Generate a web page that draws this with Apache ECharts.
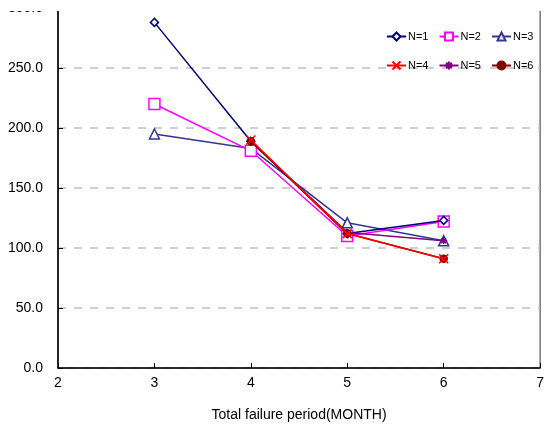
<!DOCTYPE html>
<html><head><meta charset="utf-8">
<script src="https://cdn.jsdelivr.net/npm/echarts@6/dist/echarts.min.js"></script>
<style>html,body{margin:0;padding:0;background:#fff}#c{width:547px;height:427px}</style>
</head><body><div id="c"></div>
<script>
const xTicks = [2, 3, 4, 5, 6, 7];
const yTicks = [0, 50, 100, 150, 200, 250, 300];
const seriesNames = ['N=1', 'N=2', 'N=3', 'N=4', 'N=5', 'N=6'];
const n1 = [[3, 288], [4, 189], [5, 112], [6, 123]];
const n2 = [[3, 220], [4, 181], [5, 110], [6, 122]];
const n3 = [[3, 195], [4, 183], [5, 121], [6, 106]];
const n4 = [[4, 190], [5, 112], [6, 91]];
const n5 = [[4, 189], [5, 113], [6, 106]];
const n6 = [[4, 189], [5, 112], [6, 91]];

const colors = ['#000080', '#FF00FF', '#333399', '#FF0000', '#800080', '#800000'];
const xPath = 'path://M0,0L10,10M10,0L0,10';
const starPath = 'path://M5,0L5,10M0,5L10,5M1.5,1.5L8.5,8.5M8.5,1.5L1.5,8.5';
const symbols = [
  {symbol: 'diamond', size: 8, fill: '#fff'},
  {symbol: 'rect', size: 11, fill: '#fff'},
  {symbol: 'triangle', size: 10, fill: '#fff'},
  {symbol: xPath, size: 9, fill: 'none'},
  {symbol: starPath, size: 7, fill: 'none'},
  {symbol: 'circle', size: 7, fill: null}
];
const datas = [n1, n2, n3, n4, n5, n6];
const zs = [6, 5, 4, 9, 7, 8];

const chart = echarts.init(document.getElementById('c'), null, {renderer: 'canvas'});
const font = 'Liberation Sans, Arial, sans-serif';
const series = seriesNames.map((name, i) => ({
  name: name,
  type: 'line',
  data: datas[i],
  symbol: symbols[i].symbol,
  symbolSize: symbols[i].size,
  showAllSymbol: true,
  lineStyle: {color: colors[i], width: 1.5},
  itemStyle: {color: symbols[i].fill === '#fff' ? '#fff' : colors[i], borderColor: colors[i], borderWidth: 1.5},
  z: zs[i],
  animation: false
}));
const legendCommon = {
  orient: 'horizontal', width: 200,
  itemWidth: 19, itemHeight: 10, itemGap: 10,
  textStyle: {fontFamily: font, fontSize: 11, color: '#000', padding: [0, 0, 0, -3]}
};
chart.setOption({
  animation: false,
  color: colors,
  grid: {left: 58, right: 3, top: 8, bottom: 56, show: true, borderColor: '#333', borderWidth: 1, backgroundColor: 'transparent'},
  legend: [
    Object.assign({}, legendCommon, {data: seriesNames.slice(0, 3), left: 381, top: 26}),
    Object.assign({}, legendCommon, {data: seriesNames.slice(3, 6), left: 381, top: 55})
  ],
  xAxis: {
    type: 'value', min: xTicks[0], max: xTicks[xTicks.length - 1], interval: 1,
    name: 'Total failure period(MONTH)', nameLocation: 'middle', nameGap: 40,
    nameTextStyle: {fontFamily: font, fontSize: 14, color: '#000'},
    axisLine: {show: true, lineStyle: {color: '#000', width: 1.5}},
    axisTick: {show: true, inside: true, length: 5, lineStyle: {color: '#000'}},
    axisLabel: {fontFamily: font, fontSize: 14, color: '#000', margin: 8},
    splitLine: {show: false}
  },
  yAxis: {
    type: 'value', min: yTicks[0], max: yTicks[yTicks.length - 1], interval: 50,
    axisLine: {show: true, lineStyle: {color: '#000', width: 1.5}},
    axisTick: {show: true, inside: true, length: 5, lineStyle: {color: '#000'}},
    axisLabel: {fontFamily: font, fontSize: 14, color: '#000', margin: 15, formatter: v => v.toFixed(1)},
    splitLine: {show: true, lineStyle: {color: '#c0c0c0', width: 1.5, type: [8, 8]}}
  },
  graphic: [{type: 'rect', shape: {x: 0, y: 0, width: 547, height: 11}, style: {fill: '#fff'}, z: 100}],
  series: series
});
</script></body></html>
